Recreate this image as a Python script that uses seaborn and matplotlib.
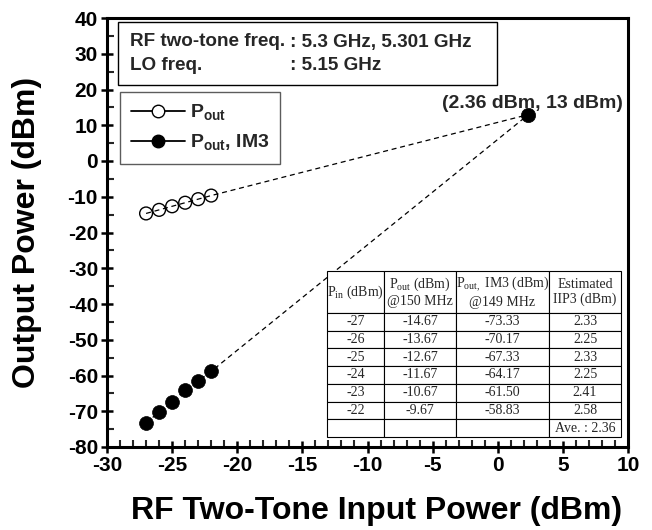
import matplotlib
matplotlib.use('Agg')
import matplotlib.pyplot as plt
import seaborn as sns
from matplotlib.lines import Line2D
from matplotlib.patches import Rectangle
from matplotlib.ticker import MultipleLocator

# ---- data ----
pin = [-27, -26, -25, -24, -23, -22]
pout = [-14.67, -13.67, -12.67, -11.67, -10.67, -9.67]
pout_im3 = [-73.33, -70.17, -67.33, -64.17, -61.50, -58.83]
iip3_est = [2.33, 2.25, 2.33, 2.25, 2.41, 2.58]
iip3_avg = 2.36
oip3 = 13
x_ticks = [-30, -25, -20, -15, -10, -5, 0, 5, 10]
y_ticks = [40, 30, 20, 10, 0, -10, -20, -30, -40, -50, -60, -70, -80]
table_header = ['P$_{\\mathrm{in}}$ (dBm)', 'P$_{\\mathrm{out}}$ (dBm)\n@150 MHz',
                'P$_{\\mathrm{out,}}$ IM3 (dBm)\n@149 MHz', 'Estimated\nIIP3 (dBm)']

sns.set_theme(style='ticks')
plt.rcParams['font.family'] = ['Liberation Sans', 'DejaVu Sans']
plt.rcParams['font.weight'] = 'bold'
plt.rcParams['axes.unicode_minus'] = False
plt.rcParams['mathtext.fontset'] = 'custom'
plt.rcParams['mathtext.rm'] = 'Liberation Serif:weight=normal'
plt.rcParams['mathtext.bf'] = 'Liberation Sans:weight=bold'

W, H = 652, 530
fig = plt.figure(figsize=(W / 100, H / 100), dpi=100)
L, R, T, B = 107, 628, 18, 447
ax = fig.add_axes([L / W, 1 - B / H, (R - L) / W, (B - T) / H])

def fx(px):
    return (px - L) / (R - L)

def fy(py):
    return (B - py) / (B - T)

# dashed extrapolation lines
ax.plot(pin + [iip3_avg], pout + [oip3], ls=(0, (4, 3)), color='black', lw=0.9, zorder=2)
ax.plot(pin + [iip3_avg], pout_im3 + [oip3], ls=(0, (4, 3)), color='black', lw=0.9, zorder=2)

sns.scatterplot(x=pin, y=pout, marker='o', s=85, color='black', facecolor='none',
                edgecolor='black', linewidth=1.0, ax=ax, zorder=3)
sns.scatterplot(x=pin, y=pout_im3, marker='o', s=100, color='black', edgecolor='black',
                linewidth=0.5, ax=ax, zorder=3)
sns.scatterplot(x=[iip3_avg], y=[oip3], marker='o', s=105, color='black', edgecolor='black',
                linewidth=0.5, ax=ax, zorder=3)

ax.set_xlim(-30, 10)
ax.set_ylim(-80, 40)
ax.set_xticks(x_ticks)
ax.set_yticks(y_ticks)
ax.xaxis.set_minor_locator(MultipleLocator(1))
ax.yaxis.set_minor_locator(MultipleLocator(5))
ax.tick_params(which='major', direction='inout', length=9, width=1.8, labelsize=15, pad=2, colors='black')
ax.tick_params(which='minor', direction='in', length=5, width=1.5)
for lab in ax.get_xticklabels() + ax.get_yticklabels():
    lab.set_fontweight('bold')
for s in ax.spines.values():
    s.set_linewidth(2.2)
    s.set_color('black')

ax.set_xlabel('RF Two-Tone Input Power (dBm)', fontsize=23, fontweight='bold', color='black')
ax.set_ylabel('Output Power (dBm)', fontsize=23, fontweight='bold', color='black')
ax.xaxis.set_label_coords(0.518, -0.115)
ax.yaxis.set_label_coords(-0.125, 0.5)

# info box
ax.add_patch(Rectangle((fx(118), fy(85)), fx(497) - fx(118), fy(22) - fy(85),
                       transform=ax.transAxes, fill=False, lw=1.0, edgecolor='black', zorder=4))
info_kw = dict(transform=ax.transAxes, fontsize=13.6, fontweight='bold', va='center', ha='left')
ax.text(fx(130), fy(42), 'RF two-tone freq.', **info_kw)
ax.text(fx(290), fy(42), ': 5.3 GHz, 5.301 GHz', **info_kw)
ax.text(fx(130), fy(65), 'LO freq.', **info_kw)
ax.text(fx(290), fy(65), ': 5.15 GHz', **info_kw)

# legend
handles = [
    Line2D([], [], color='black', lw=1.3, marker='o', markerfacecolor='white',
           markeredgecolor='black', markersize=9, markeredgewidth=1.0),
    Line2D([], [], color='black', lw=1.3, marker='o', markerfacecolor='black',
           markeredgecolor='black', markersize=9),
]
labels = ['P$_{\\mathbf{out}}$', 'P$_{\\mathbf{out}}$, IM3']
leg = ax.legend(handles, labels, loc='upper left', bbox_to_anchor=(fx(120), fy(92)),
                borderaxespad=0, fancybox=False, frameon=True, handlelength=2.8,
                handletextpad=0.25, borderpad=0.55, labelspacing=0.5,
                prop={'weight': 'bold', 'size': 14})
leg.get_frame().set_edgecolor('#333333')
leg.get_frame().set_linewidth(1.0)

# annotation
ax.text(fx(623), fy(103), f'({iip3_avg} dBm, {oip3} dBm)', transform=ax.transAxes,
        fontsize=14, fontweight='bold', ha='right', va='center')

# table
rows = [[str(p), f'{a:.2f}', f'{b:.2f}', f'{c:.2f}'] for p, a, b, c in zip(pin, pout, pout_im3, iip3_est)]
rows.append(['', '', '', f'Ave. : {iip3_avg}'])
tbl = ax.table(cellText=rows, colLabels=table_header, colWidths=[57, 72, 93, 72],
               cellLoc='center', bbox=[fx(327), fy(437), fx(621) - fx(327), fy(271) - fy(437)],
               zorder=5)
tbl.auto_set_font_size(False)
tbl.set_fontsize(10)
for (r, c), cell in tbl.get_celld().items():
    cell.set_linewidth(0.8)
    cell.set_edgecolor('black')
    cell.set_height(42 if r == 0 else 17.8)
    t = cell.get_text()
    t.set_fontfamily('Liberation Serif')
    t.set_fontweight('normal')
    t.set_fontsize(10)

fig.savefig('out.png', dpi=100)
